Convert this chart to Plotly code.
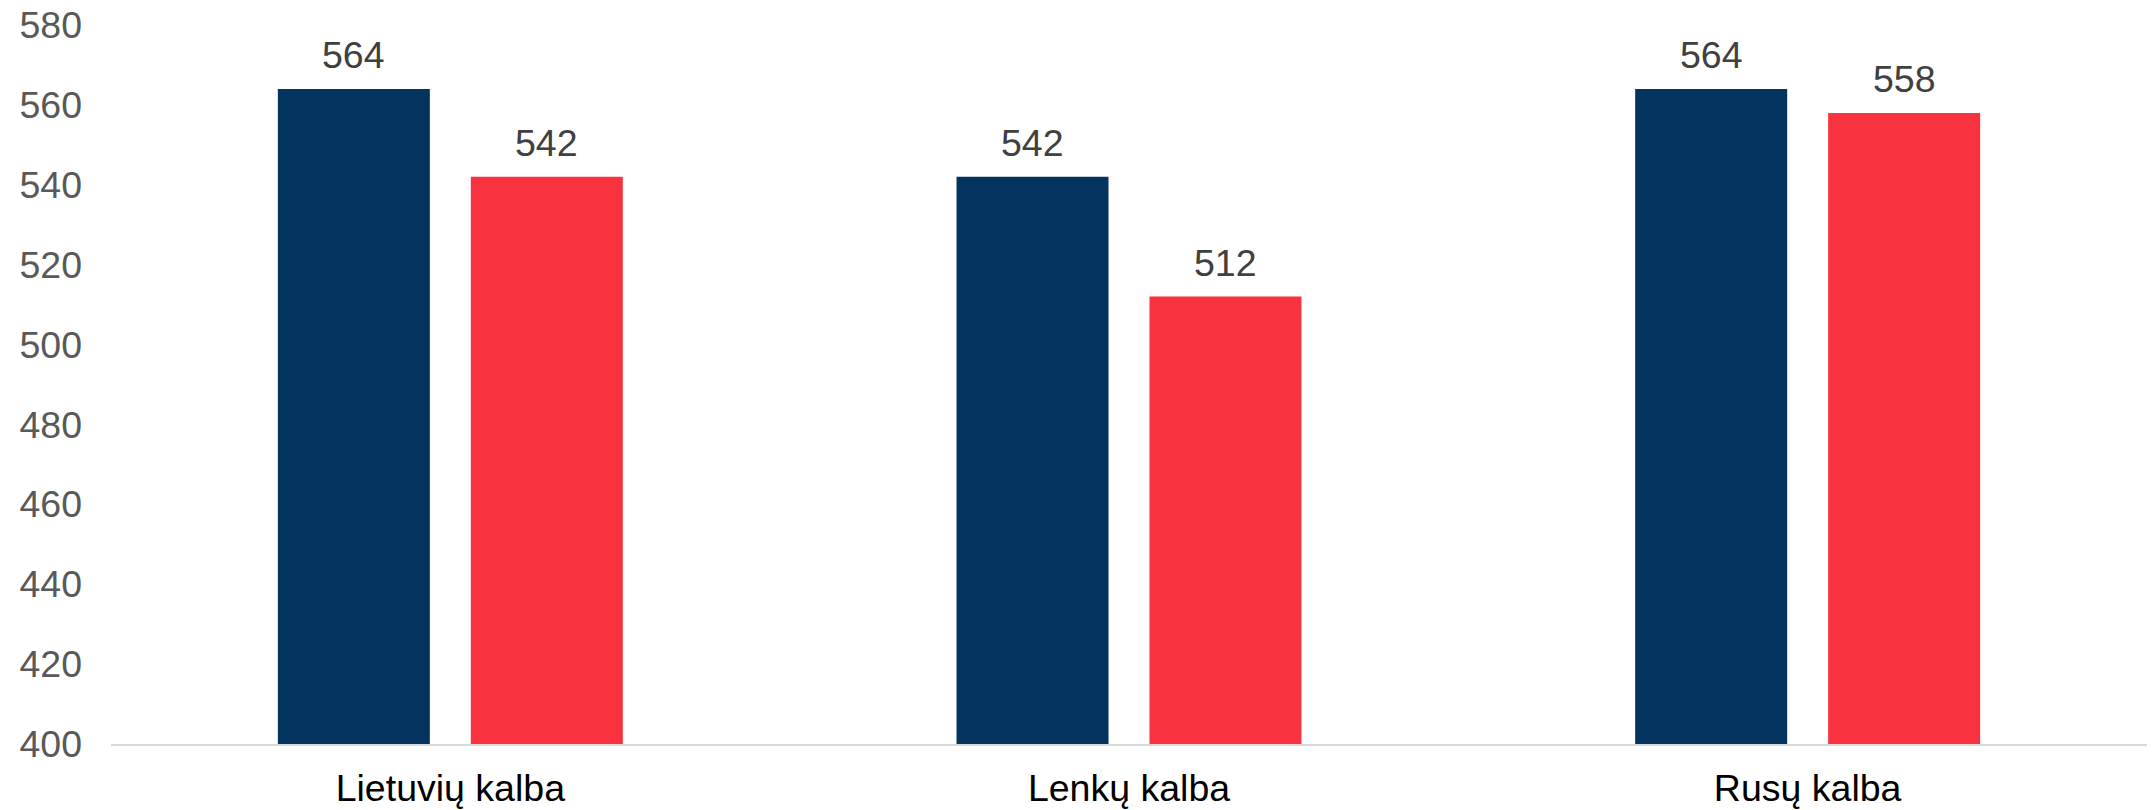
import plotly.graph_objects as go

# Category labels and the two series of scores
categories = ["Lietuvių kalba", "Lenkų kalba", "Rusų kalba"]
series_a = [564, 542, 564]
series_b = [542, 512, 558]
series_names = ["Serija 1", "Serija 2"]
y_ticks = [400, 420, 440, 460, 480, 500, 520, 540, 560, 580]

COLOR_A = "#03345F"
COLOR_B = "#F8323F"
FONT = "Arial, Liberation Sans, sans-serif"
FS = 37.5

W, H = 2155, 810
M_L, M_R, M_T, M_B = 111, 8, 25, 66
BARGAP = 0.4313
BARGROUPGAP = 0.2124

fig = go.Figure()
fig.add_trace(go.Bar(x=categories, y=series_a, name=series_names[0],
                     marker=dict(color=COLOR_A, line=dict(width=0))))
fig.add_trace(go.Bar(x=categories, y=series_b, name=series_names[1],
                     marker=dict(color=COLOR_B, line=dict(width=0))))

# value labels above each bar, shifted to the bar centre inside its group
plot_w = W - M_L - M_R
cat_w = plot_w / len(categories)
slot = cat_w * (1 - BARGAP) / 2
for vals, sign in ((series_a, -1), (series_b, 1)):
    for cat, v in zip(categories, vals):
        fig.add_annotation(x=cat, y=v, xref="x", yref="y", text=str(v),
                           showarrow=False, xanchor="center", yanchor="bottom",
                           xshift=sign * slot / 2, yshift=11,
                           font=dict(family=FONT, size=FS, color="#404040"))

fig.update_layout(
    width=W, height=H,
    margin=dict(l=M_L, r=M_R, t=M_T, b=M_B, pad=0),
    paper_bgcolor="white", plot_bgcolor="white",
    barmode="group", bargap=BARGAP, bargroupgap=BARGROUPGAP,
    showlegend=False,
    font=dict(family=FONT, size=FS),
)
fig.update_xaxes(showgrid=False, showline=True, linecolor="#D9D9D9", linewidth=2,
                 ticks="", tickfont=dict(family=FONT, size=FS, color="#000000"),
                 ticklabelstandoff=10, zeroline=False, automargin=False)
fig.update_yaxes(range=[400, 580], tickvals=y_ticks, showgrid=False, showline=False,
                 zeroline=False, ticks="", automargin=False,
                 tickfont=dict(family=FONT, size=FS, color="#595959"),
                 ticklabelstandoff=28)

fig.write_html("out.html")
